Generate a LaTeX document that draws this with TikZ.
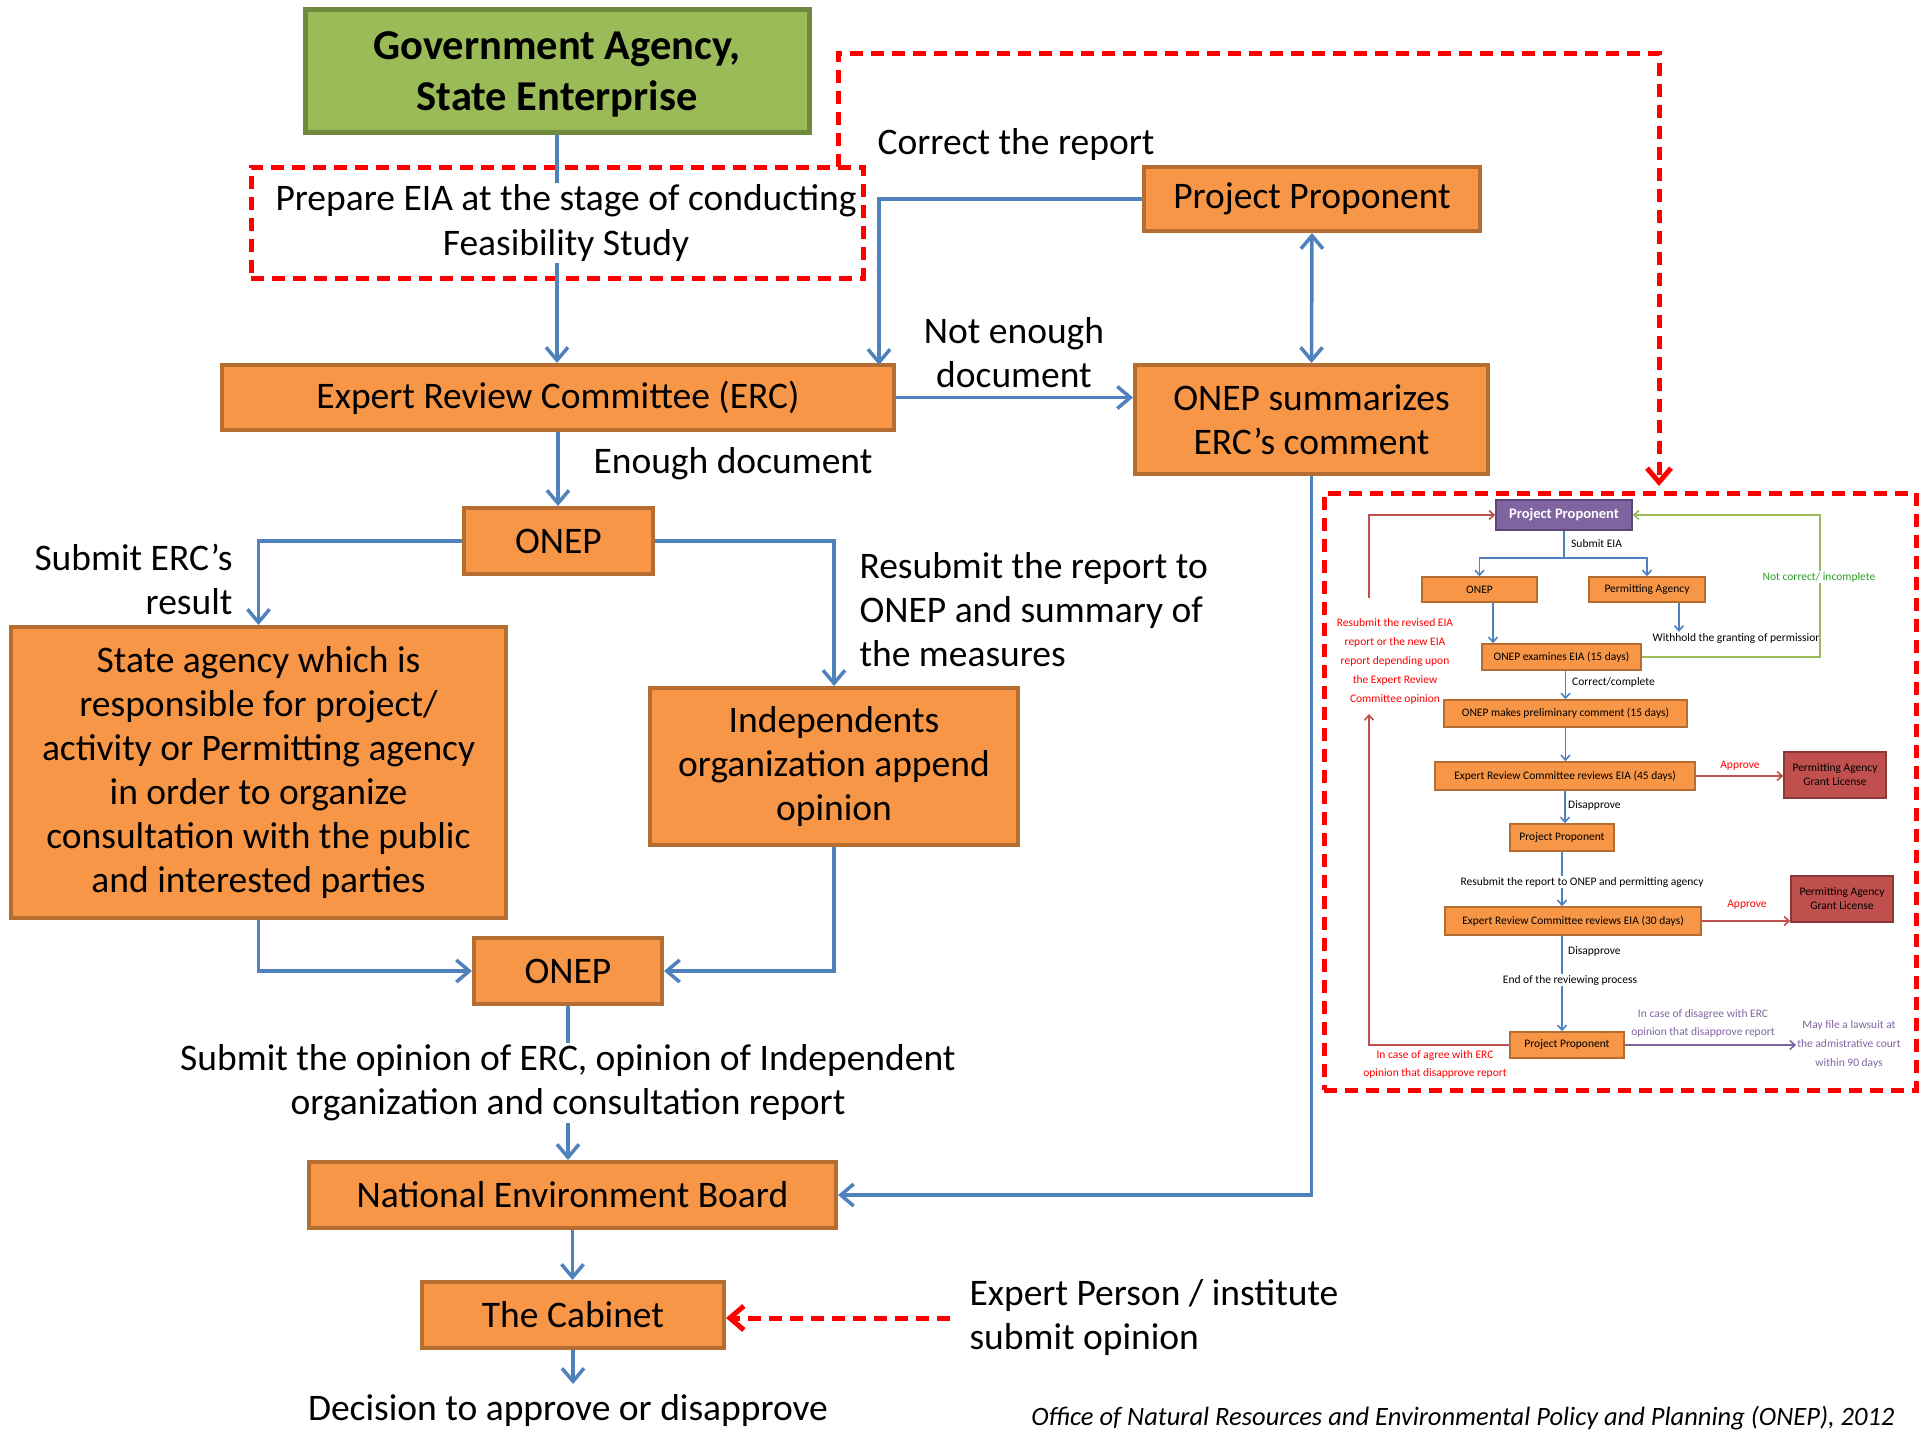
\documentclass[tikz,border=0pt]{standalone}
\usepackage{fontspec}
\setmainfont{Carlito}
\usetikzlibrary{arrows.meta}
\definecolor{boxorange}{HTML}{F79646}
\definecolor{boxedge}{HTML}{B66D31}
\definecolor{govgreen}{HTML}{9BBB59}
\definecolor{govedge}{HTML}{71893F}
\definecolor{flowblue}{HTML}{4F81BD}
\definecolor{alertred}{HTML}{FF0000}
\definecolor{ppurple}{HTML}{8064A2}
\definecolor{ppurpleedge}{HTML}{5C4776}
\definecolor{grantred}{HTML}{C0504D}
\definecolor{grantedge}{HTML}{8C3836}
\definecolor{noteline}{HTML}{9BBB59}
\definecolor{notegreen}{HTML}{2E9E2A}
\definecolor{lawpurple}{HTML}{8064A2}

\begin{document}
\begin{tikzpicture}[x=1pt,y=-1pt,
  maintext/.style={font=\fontsize{37.5}{44}\selectfont, align=center},
  obox/.style={draw=boxedge, fill=boxorange, line width=4pt, inner sep=0pt, maintext},
  flow/.style={draw=flowblue, line width=3.5pt, -{Straight Barb[length=13pt,width=22pt]}},
  bothflow/.style={draw=flowblue, line width=3.5pt, {Straight Barb[length=13pt,width=22pt]}-{Straight Barb[length=13pt,width=22pt]}},
  redflow/.style={draw=alertred, line width=5pt, dash pattern=on 13pt off 8pt, -{Straight Barb[length=14pt,width=24pt]}},
  reddash/.style={draw=alertred, line width=5pt, dash pattern=on 13pt off 8pt},
  itext/.style={font=\fontsize{11.5}{14}\selectfont, align=center, inner sep=1pt},
  ibox/.style={draw=boxedge, fill=boxorange, line width=1.5pt, inner sep=0pt, itext},
  gbox/.style={draw=grantedge, fill=grantred, line width=1.5pt, inner sep=0pt, itext},
  iflow/.style={draw=flowblue, line width=1.6pt, -{Straight Barb[length=5pt,width=9pt]}},
  iline/.style={draw=flowblue, line width=1.6pt},
  rflow/.style={draw=grantred, line width=1.6pt, -{Straight Barb[length=5pt,width=9pt]}},
  gflow/.style={draw=noteline, line width=1.6pt, -{Straight Barb[length=5pt,width=9pt]}},
  pflow/.style={draw=lawpurple, line width=1.6pt, -{Straight Barb[length=5pt,width=9pt]}},
]
\useasboundingbox (0,0) rectangle (1920,1440);

% ---------- main flow ----------
\node[draw=govedge, fill=govgreen, line width=5pt, inner sep=0pt,
      minimum width=504pt, minimum height=123pt] (gov) at (557,70.5) {};
\node[align=center, font=\bfseries\fontsize{42.5}{51}\selectfont] (govtext)
      at ([yshift=-4pt]gov.center) {Government Agency,\\State Enterprise};

\node[reddash, minimum width=612pt, minimum height=111pt] (prepbox) at (557,222.5) {};

\node[obox, minimum width=336pt, minimum height=64pt] (pp) at (1312,199) {Project Proponent};
\node[obox, minimum width=672pt, minimum height=65pt] (erc) at (558,397.5) {Expert Review Committee (ERC)};
\node[obox, minimum width=353pt, minimum height=109pt] (sum) at (1311.5,419.5) {ONEP summarizes\\ERC’s comment};
\node[obox, minimum width=189pt, minimum height=66pt] (onep1) at (558.5,541) {ONEP};
\node[obox, minimum width=495pt, minimum height=291pt] (state) at (258.5,772.5)
      {State agency which is\\responsible for project/\\activity or Permitting agency\\in order to organize\\consultation with the public\\and interested parties};
\node[obox, minimum width=368pt, minimum height=157pt] (indep) at (834,766.5)
      {Independents\\organization append\\opinion};
\node[obox, minimum width=188pt, minimum height=66pt] (onep2) at (568,971) {ONEP};
\node[obox, minimum width=527pt, minimum height=66pt] (neb) at (572.5,1195) {National Environment Board};
\node[obox, minimum width=302pt, minimum height=66pt] (cab) at (573,1315) {The Cabinet};

% connectors
\draw[flow] (gov.south) -- (gov.south |- erc.north);
\node[maintext, fill=white, inner sep=2pt] (preptext) at (566,223)
      {Prepare EIA at the stage of conducting\\Feasibility Study};

\coordinate (ercin) at (879,365);
\draw[flow] (pp.west) -| (ercin);
\draw[flow] (erc.east) -- (erc.east -| sum.west);
\draw[bothflow] (pp.south) -- (sum.north);
\draw[flow] (erc.south) -- (erc.south |- onep1.north);
\draw[flow] (onep1.west) -| (state.north);
\draw[flow] (onep1.east) -| (indep.north);
\draw[flow] (state.south) |- (onep2.west);
\draw[flow] (indep.south) |- (onep2.east);
\draw[flow] (onep2.south) -- (onep2.south |- neb.north);
\draw[flow] (sum.south) |- (neb.east);
\draw[flow] (neb.south) -- (neb.south |- cab.north);
\coordinate (decin) at (573,1384);
\draw[flow] (cab.south) -- (decin);

\coordinate (expertout) at (950,1318);
\draw[redflow] (expertout) -- (cab.east |- expertout);

% labels
\node[maintext] (lblcorrect) at (1016,145) {Correct the report};
\node[maintext] (lblnot) at (1014,353) {Not enough\\document};
\node[maintext, anchor=west] (lblenough) at (590,464) {Enough document};
\node[maintext, align=right, anchor=east] (lblsubmit) at (236,579) {Submit ERC’s\\result};
\node[maintext, align=left, anchor=west] (lblresub) at (856,610)
      {Resubmit the report to\\ONEP and summary of\\the measures};
\node[maintext, fill=white, inner sep=2pt] (lblopinion) at (568,1083)
      {Submit the opinion of ERC, opinion of Independent\\organization and consultation report};
\node[maintext, align=left, anchor=west] (lblexpert) at (966,1317)
      {Expert Person / institute\\submit opinion};
\node[maintext] (lbldecision) at (568,1410) {Decision to approve or disapprove};
\node[font=\itshape\fontsize{26.5}{30}\selectfont, anchor=east] (lblsource) at (1898,1418)
      {Office of Natural Resources and Environmental Policy and Planning (ONEP), 2012};

% ---------- detailed procedure panel ----------
\node[reddash, minimum width=592pt, minimum height=597pt] (inset) at (1620,791.5) {};
\coordinate (redA) at (838,167);
\coordinate (redB) at (1659,486);
\draw[redflow] (redA) -- (838,53) -- (1659,53) -- (redB);

\node[ibox, draw=ppurpleedge, fill=ppurple, text=white, font=\bfseries\fontsize{14.5}{16}\selectfont,
      minimum width=136pt, minimum height=30pt] (ipp) at (1564,515) {Project Proponent};
\node[ibox, minimum width=115pt, minimum height=25pt] (ionep) at (1479.5,589.5) {ONEP};
\node[ibox, minimum width=116pt, minimum height=25pt] (ipa) at (1647,589.5) {Permitting Agency};
\node[ibox, minimum width=159pt, minimum height=26pt] (iexam) at (1561.5,657) {ONEP examines EIA (15 days)};
\node[ibox, minimum width=243pt, minimum height=27pt] (iprel) at (1565.5,713.5) {ONEP makes preliminary comment (15 days)};
\node[ibox, minimum width=260pt, minimum height=28pt] (irev1) at (1565,776) {Expert Review Committee reviews EIA (45 days)};
\node[gbox, minimum width=102pt, minimum height=46pt] (igrant1) at (1835,775) {Permitting Agency\\Grant License};
\node[ibox, minimum width=104pt, minimum height=27pt] (ipp2) at (1562,837.5) {Project Proponent};
\node[ibox, minimum width=256pt, minimum height=28pt] (irev2) at (1573,921) {Expert Review Committee reviews EIA (30 days)};
\node[gbox, minimum width=102pt, minimum height=46pt] (igrant2) at (1842,899) {Permitting Agency\\Grant License};
\node[ibox, minimum width=114pt, minimum height=26pt] (ipp3) at (1567,1045) {Project Proponent};

\node[itext, anchor=west] (isubmit) at (1570,544) {Submit EIA};
\coordinate (isplit) at (1564,558);
\draw[iline] (ipp.south) -- (isplit);
\draw[iflow] (isplit) -| (ionep.north);
\draw[iflow] (isplit) -| (ipa.north);

\coordinate (iq) at ([xshift=13.5pt]ionep.south);
\draw[iflow] (iq) -- (iq |- iexam.north);

\node[itext] (iwithhold) at (1737,638) {Withhold the granting of permission};
\coordinate (iw) at ([xshift=32pt]ipa.south);
\draw[iflow] (iw) -- (iw |- iwithhold.north);

\draw[gflow] (iexam.east) -| (1820,515) -- (ipp.east);
\node[itext, text=notegreen, fill=white] (inot) at (1819,577) {Not correct/ incomplete};

\draw[iflow] (iexam.south -| iprel.north) -- (iprel.north);
\node[itext, anchor=west] (icorrect) at (1571,682) {Correct/complete};
\draw[iflow] (iprel.south) -- (iprel.south |- irev1.north);

\draw[rflow] (irev1.east) -- (irev1.east -| igrant1.west);
\node[itext, text=alertred] (iapp1) at (1740,766) {Approve};

\draw[iflow] (irev1.south) -- (irev1.south |- ipp2.north);
\node[itext, anchor=west] (idis1) at (1567,805) {Disapprove};

\draw[iflow] (ipp2.south) -- (ipp2.south |- irev2.north);
\node[itext, fill=white] (iresub2) at (1582,882) {Resubmit the report to ONEP and permitting agency};

\draw[rflow] (irev2.east) -- (irev2.east -| igrant2.west);
\node[itext, text=alertred] (iapp2) at (1747,905) {Approve};

\draw[iflow] (ipp2.south |- irev2.south) -- (ipp2.south |- ipp3.north);
\node[itext, anchor=west] (idis2) at (1567,951) {Disapprove};
\node[itext, fill=white] (iend) at (1570,980) {End of the reviewing process};

\node[itext, text=lawpurple, font=\fontsize{11.5}{19}\selectfont] (ilaw) at (1849,1044)
      {May file a lawsuit at\\the admistrative court\\within 90 days};
\draw[pflow] (ipp3.east) -- (ipp3.east -| ilaw.west);
\node[itext, text=lawpurple, font=\fontsize{11.5}{18}\selectfont] (idisagree) at (1703,1023)
      {In case of disagree with ERC\\opinion that disapprove report};
\node[itext, text=alertred, font=\fontsize{11.5}{18}\selectfont] (iagree) at (1435,1064)
      {In case of agree with ERC\\opinion that disapprove report};

\coordinate (iredlow) at (1369,714);
\coordinate (iredhigh) at (1369,598);
\draw[rflow] (ipp3.west) -| (iredlow);
\draw[rflow] (iredhigh) |- (ipp.west);
\node[itext, text=alertred, font=\fontsize{11.5}{19}\selectfont] (iresub1) at (1395,661)
      {Resubmit the revised EIA\\report or the new EIA\\report depending upon\\the Expert Review\\Committee opinion};

\end{tikzpicture}
\end{document}
